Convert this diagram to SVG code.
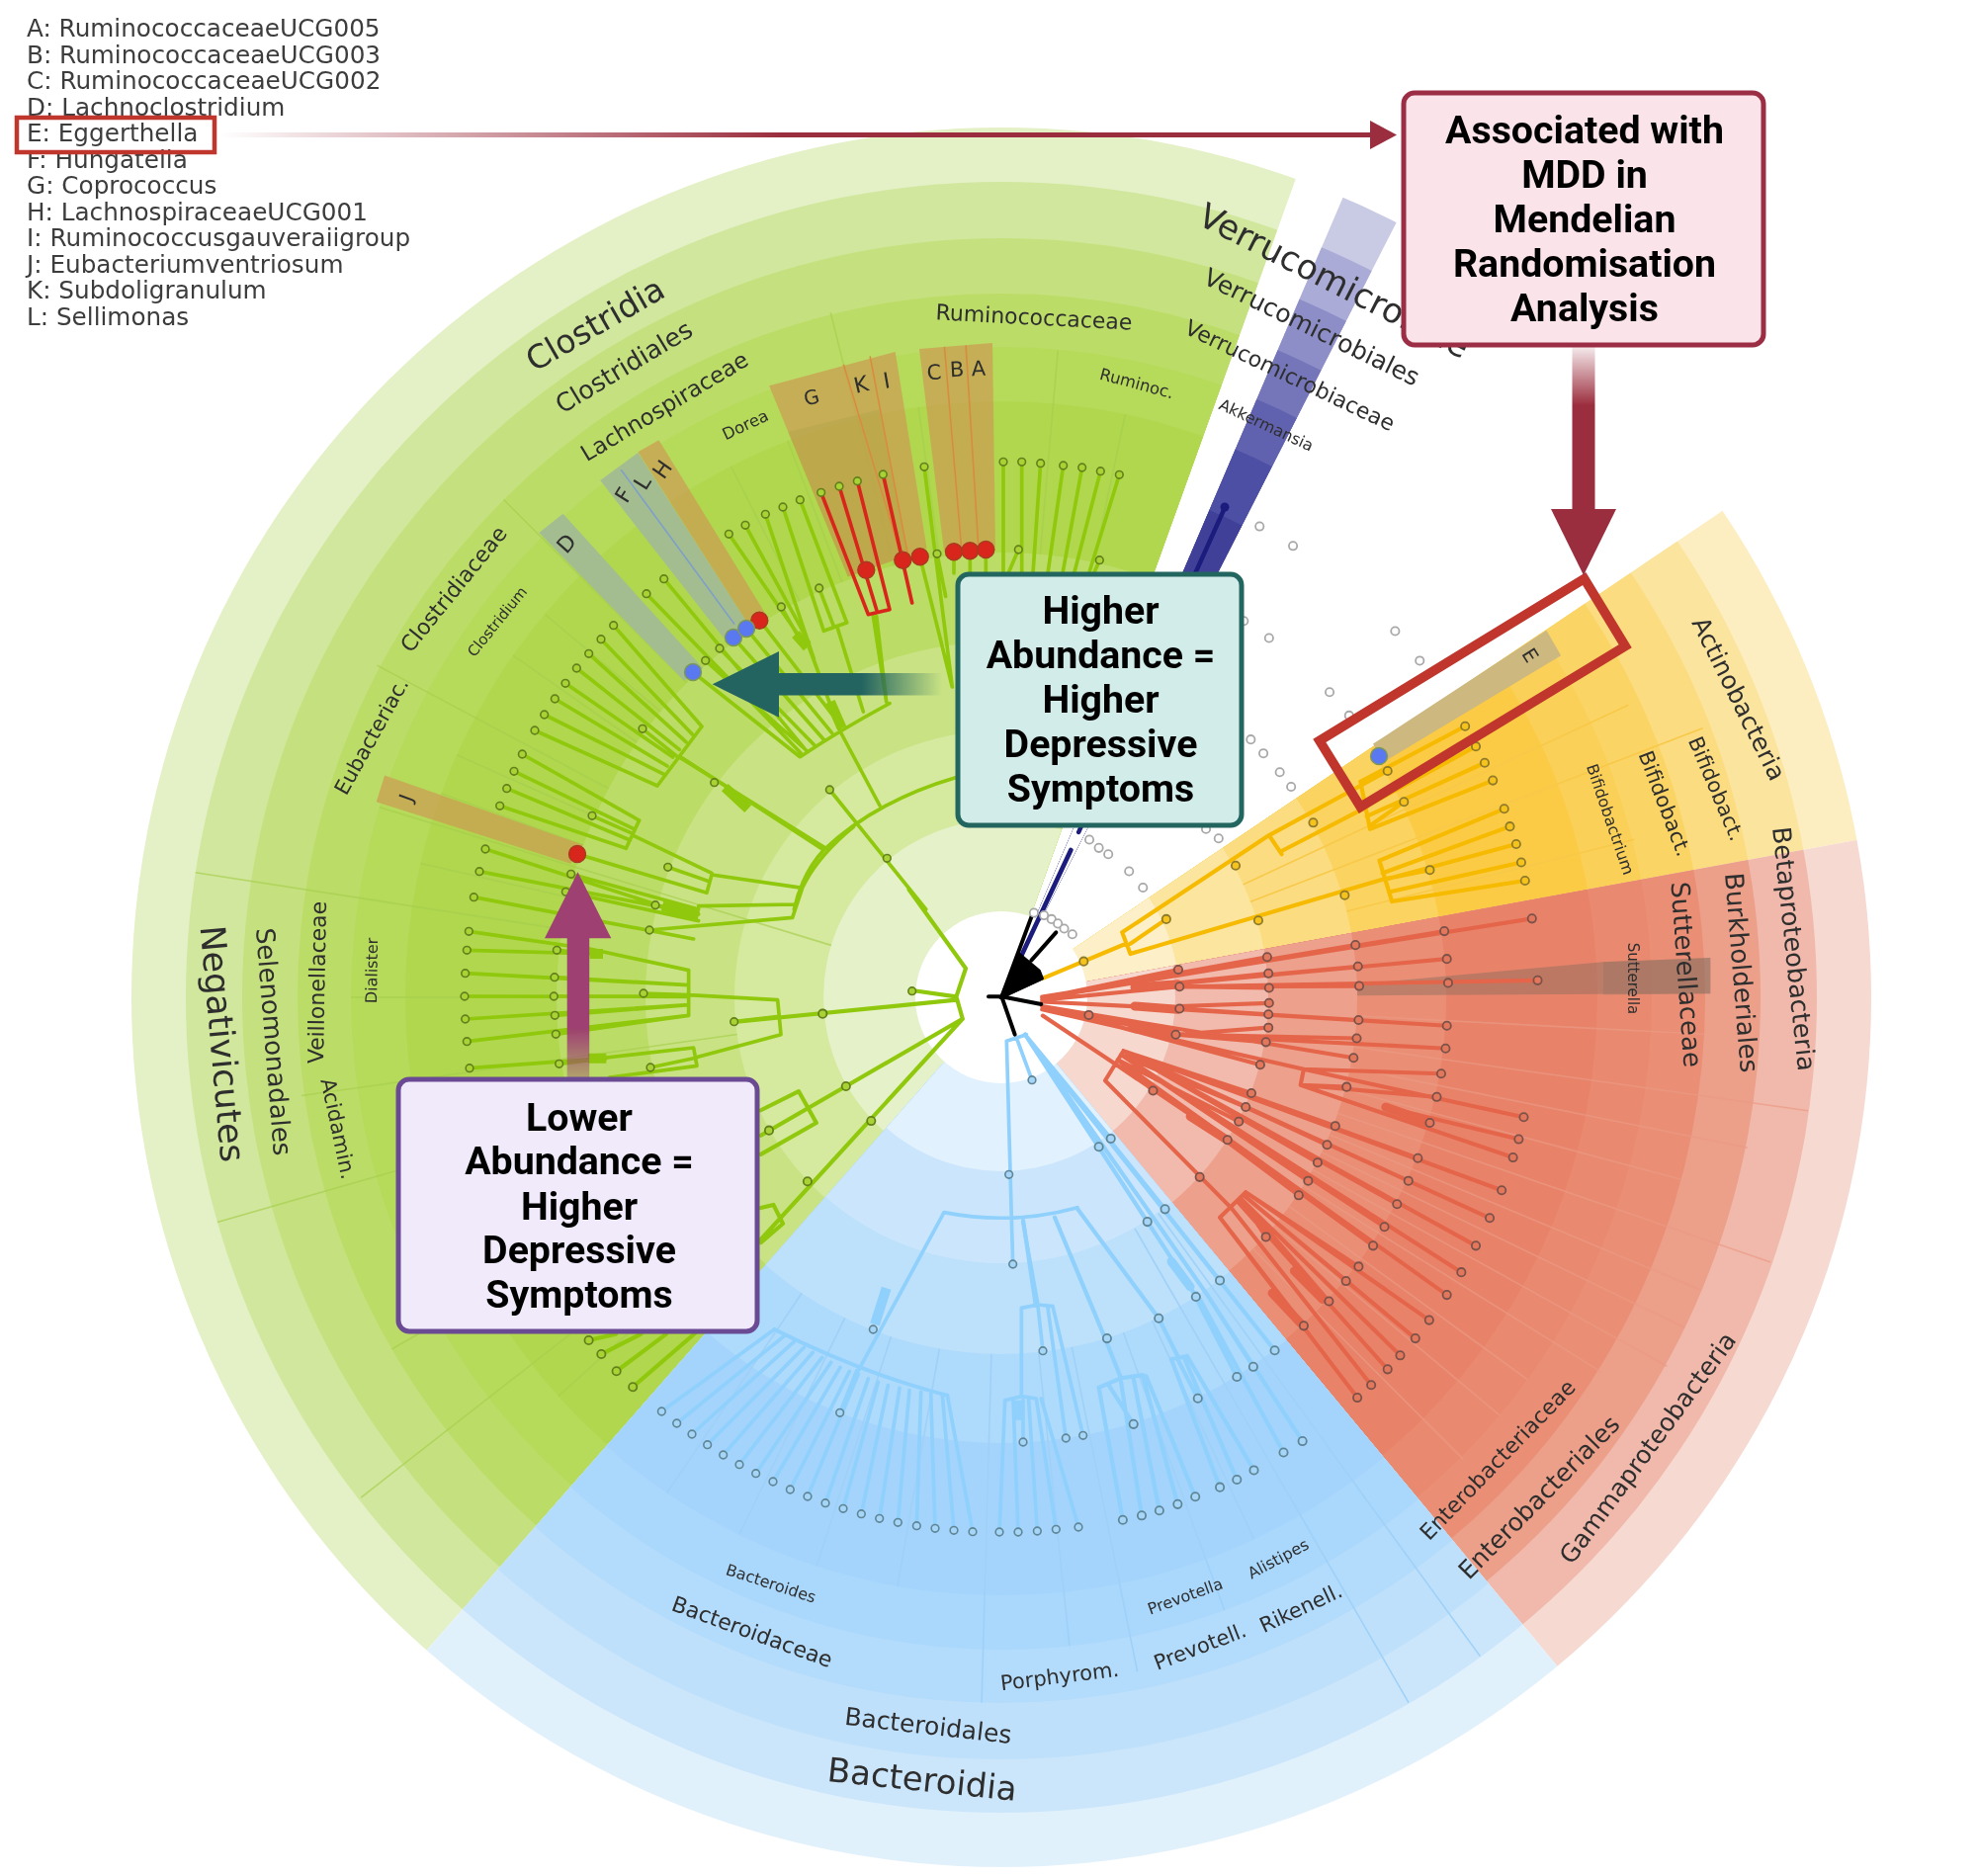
<svg xmlns="http://www.w3.org/2000/svg" xmlns:xlink="http://www.w3.org/1999/xlink" width="2000" height="1898" viewBox="0 0 2000 1898">
<style>
text{font-family:"DejaVu Sans","Liberation Sans",sans-serif;fill:#2e2e2e;text-anchor:middle}
#ring-labels text{dominant-baseline:central}
.legend text{text-anchor:start;font-size:24.700px;fill:#3c3c3c}
.box text{font-family:Roboto,"Liberation Sans",sans-serif;font-weight:700;font-size:39.300px;fill:#000}
.box rect{stroke-width:5}
.t path{fill:none;stroke-linejoin:round;stroke-linecap:round}
.a path{stroke-width:6.500}.b path{stroke-width:11}
.a path.k{stroke-width:14}.b path.k{stroke-width:30;stroke-linecap:butt}
.gr path{stroke:#90c808}.bl path{stroke:#8fd0fc}.re path{stroke:#e4654a}.ye path{stroke:#f6ba00}
.a circle{r:6.500px;stroke-width:2.800}.b circle{r:11.500px;stroke-width:4.800}
.gd circle{fill:#a9d336;stroke:#63801a}.bd circle{fill:#a5d6f8;stroke:#5f8596}.rd circle{fill:#e2775c;stroke:#7b5148}.yd circle{fill:#f6c21a;stroke:#8f7a2a}.kd circle{fill:#fff;stroke:#a8a8a8}
.dv line{stroke-width:1.600;fill:none}
.tan{fill:#c9a253;fill-opacity:.8}
</style>
<defs>
<filter id="soft" x="-2%" y="-2%" width="104%" height="104%"><feGaussianBlur stdDeviation="0.7"/></filter>
<clipPath id="cg"><polygon points="1013,1009 220,1910 -300,1910 -300,-120 1419,-120"/></clipPath>
<clipPath id="cn"><polygon points="1013,1009 1484,-94 1558,-60"/></clipPath>
<clipPath id="cy"><polygon points="1013,1009 2009,337 2193,792"/></clipPath>
<clipPath id="cr"><polygon points="1013,1009 2193,792 2400,1000 2400,1910 1780,1932"/></clipPath>
<clipPath id="cb"><polygon points="1013,1009 1780,1932 220,1932 220,1910"/></clipPath>
<linearGradient id="gl" gradientUnits="userSpaceOnUse" x1="223" y1="0" x2="790" y2="0"><stop offset="0" stop-color="#9b2e3e" stop-opacity="0"/><stop offset="1" stop-color="#9b2e3e"/></linearGradient>
<linearGradient id="gd" gradientUnits="userSpaceOnUse" x1="0" y1="351" x2="0" y2="410"><stop offset="0" stop-color="#9b2e3e" stop-opacity=".1"/><stop offset="1" stop-color="#9b2e3e"/></linearGradient>
<linearGradient id="gt" gradientUnits="userSpaceOnUse" x1="953" y1="0" x2="872" y2="0"><stop offset="0" stop-color="#236460" stop-opacity="0"/><stop offset="1" stop-color="#236460"/></linearGradient>
<linearGradient id="gp" gradientUnits="userSpaceOnUse" x1="0" y1="1092" x2="0" y2="1040"><stop offset="0" stop-color="#9e4072" stop-opacity=".35"/><stop offset="1" stop-color="#9e4072"/></linearGradient>
</defs>

<g id="figure" filter="url(#soft)">
<g id="sectors">
<g id="sector-green" clip-path="url(#cg)">
<circle cx="1013" cy="1009" r="880" fill="#e4f0c5"/><circle cx="1013" cy="1009" r="825" fill="#d1e79d"/><circle cx="1013" cy="1009" r="768" fill="#c5e17f"/><circle cx="1013" cy="1009" r="712" fill="#bcdc68"/><circle cx="1013" cy="1009" r="658" fill="#b6da5a"/><circle cx="1013" cy="1009" r="603" fill="#b0d74e"/><circle cx="1013" cy="1009" r="450" fill="#bcdc68"/><circle cx="1013" cy="1009" r="360" fill="#c9e384"/><circle cx="1013" cy="1009" r="270" fill="#d5e99f"/><circle cx="1013" cy="1009" r="180" fill="#e5f1c8"/>
</g>
<g id="sector-verruco" clip-path="url(#cn)">
<circle cx="1013" cy="1009" r="880" fill="#c9cae4"/><circle cx="1013" cy="1009" r="825" fill="#aaabd6"/><circle cx="1013" cy="1009" r="768" fill="#8d8ec8"/><circle cx="1013" cy="1009" r="712" fill="#7576ba"/><circle cx="1013" cy="1009" r="658" fill="#6162b0"/><circle cx="1013" cy="1009" r="603" fill="#4e50a4"/><circle cx="1013" cy="1009" r="536" fill="#3f4199"/><circle cx="1013" cy="1009" r="450" fill="#6a6cb5"/><circle cx="1013" cy="1009" r="360" fill="#fff"/>
</g>
<g id="sector-yellow" clip-path="url(#cy)">
<circle cx="1013" cy="1009" r="880" fill="#fdeec2"/><circle cx="1013" cy="1009" r="825" fill="#fbe49e"/><circle cx="1013" cy="1009" r="768" fill="#fbdc80"/><circle cx="1013" cy="1009" r="712" fill="#fad566"/><circle cx="1013" cy="1009" r="658" fill="#fad058"/><circle cx="1013" cy="1009" r="603" fill="#fbcb45"/><circle cx="1013" cy="1009" r="450" fill="#fbd360"/><circle cx="1013" cy="1009" r="360" fill="#fbdc80"/><circle cx="1013" cy="1009" r="270" fill="#fce59f"/><circle cx="1013" cy="1009" r="180" fill="#fdf0c8"/>
</g>
<g id="sector-red" clip-path="url(#cr)">
<circle cx="1013" cy="1009" r="880" fill="#f6d9d1"/><circle cx="1013" cy="1009" r="825" fill="#f0b9ab"/><circle cx="1013" cy="1009" r="768" fill="#ec9f89"/><circle cx="1013" cy="1009" r="712" fill="#ea8f75"/><circle cx="1013" cy="1009" r="658" fill="#e98a70"/><circle cx="1013" cy="1009" r="603" fill="#e8836a"/><circle cx="1013" cy="1009" r="450" fill="#ea8f76"/><circle cx="1013" cy="1009" r="360" fill="#eda18c"/><circle cx="1013" cy="1009" r="270" fill="#f1baac"/><circle cx="1013" cy="1009" r="176" fill="#f6d8cf"/>
</g>
<g id="sector-blue" clip-path="url(#cb)">
<circle cx="1013" cy="1009" r="880" fill="#e1f1fc"/><circle cx="1013" cy="1009" r="825" fill="#cbe6fb"/><circle cx="1013" cy="1009" r="771" fill="#bfe0fb"/><circle cx="1013" cy="1009" r="714" fill="#b3dbfb"/><circle cx="1013" cy="1009" r="660" fill="#aad7fc"/><circle cx="1013" cy="1009" r="605" fill="#a4d4fc"/><circle cx="1013" cy="1009" r="451" fill="#aedafc"/><circle cx="1013" cy="1009" r="361" fill="#bde0fb"/><circle cx="1013" cy="1009" r="269" fill="#cbe6fc"/><circle cx="1013" cy="1009" r="176" fill="#e1f1fd"/>
</g>
<circle cx="1013" cy="1009" r="87" fill="#fff"/>
</g>

<g id="dividers" class="dv" transform="translate(1013 1009)">
<g stroke="#a6cf4e" stroke-opacity=".7">
<line x2="825" x1="450" transform="rotate(188.8)"/><line x2="825" x1="450" transform="rotate(164)"/><line x2="822" x1="450" transform="rotate(142)"/><line x2="712" x1="450" transform="rotate(225)"/><line x2="715" x1="450" transform="rotate(208)"/><line x2="714" x1="450" transform="rotate(256)"/><line x2="657" x1="450" transform="rotate(275)"/><line x2="715" x1="270" transform="rotate(172)"/><line x2="658" x1="180" transform="rotate(197)"/><line x2="712" x1="450" transform="rotate(150)"/><line x2="658" x1="450" transform="rotate(158)"/><line x2="658" x1="450" transform="rotate(180)"/><line x2="603" x1="450" transform="rotate(215)"/><line x2="603" x1="450" transform="rotate(235)"/><line x2="603" x1="450" transform="rotate(243)"/><line x2="603" x1="450" transform="rotate(249)"/><line x2="603" x1="450" transform="rotate(262)"/><line x2="603" x1="450" transform="rotate(267)"/><line x2="603" x1="450" transform="rotate(282)"/><line x2="603" x1="450" transform="rotate(220)"/><line x2="603" x1="450" transform="rotate(204)"/><line x2="603" x1="450" transform="rotate(200)"/><line x2="603" x1="450" transform="rotate(193)"/><line x2="603" x1="450" transform="rotate(147)"/><line x2="603" x1="450" transform="rotate(138)"/>
</g>
<g stroke="#eb9a84" stroke-opacity=".7">
<line x2="824" x1="360" transform="rotate(8)"/><line x2="823" x1="360" transform="rotate(19)"/><line x2="770" x1="360" transform="rotate(11.4)"/><line x2="766" x1="360" transform="rotate(22.7)"/><line x2="768" x1="360" transform="rotate(25.8)"/><line x2="770" x1="360" transform="rotate(29)"/><line x2="716" x1="360" transform="rotate(32)"/><line x2="661" x1="360" transform="rotate(45)"/><line x2="712" x1="360" transform="rotate(3)"/><line x2="712" x1="360" transform="rotate(15)"/><line x2="658" x1="360" transform="rotate(36)"/><line x2="658" x1="360" transform="rotate(40)"/>
</g>
<g stroke="#9fd1f8">
<line x2="824" x1="270" transform="rotate(60)"/><line x2="824" x1="270" transform="rotate(54)"/><line x2="696" x1="361" transform="rotate(78.6)"/><line x2="714" x1="361" transform="rotate(91.6)"/><line x2="660" x1="361" transform="rotate(70)"/><line x2="660" x1="361" transform="rotate(84)"/><line x2="605" x1="361" transform="rotate(100)"/><line x2="605" x1="361" transform="rotate(108)"/><line x2="605" x1="361" transform="rotate(116)"/><line x2="605" x1="361" transform="rotate(124)"/><line x2="605" x1="361" transform="rotate(65)"/>
</g>
<g stroke="#f8c94a">
<line x2="760" x1="270" transform="rotate(-21)"/><line x2="700" x1="270" transform="rotate(-25)"/><line x2="660" x1="360" transform="rotate(-14)"/>
</g>
</g>

<g id="highlights">
<polygon points="855,845 893,815 1115,1060 1085,1080" transform="scale(.6378)" fill="#a3bd91"/>
<polygon points="952,762 1012,718 1190,995 1150,1015" transform="scale(.6378)" fill="#a3bd91"/>
<polygon points="1012,717 1045,698 1215,975 1190,995" transform="scale(.6378)" class="tan"/>
<polygon points="1220,612 1420,558 1470,870 1345,915" transform="scale(.6378)" class="tan"/>
<polygon points="1250,685 1395,650 1440,880 1345,915" transform="scale(.6378)" fill="#a89d3f" fill-opacity=".25"/>
<polygon points="930,353 1004,347 1007,557 955,558" class="tan"/>
<polygon points="610,1230 597,1272 905,1370 925,1340" transform="scale(.6378)" class="tan"/>
<polygon points="885,1000 908,1040 625,1210 610,1180" transform="translate(1000 0) scale(.6378)" fill="#cdb87f"/>
<polygon points="585,150 585,168 1145,165 1145,108 975,115" transform="translate(1000 900) scale(.6378)" fill="#7e6a5c" fill-opacity=".42"/>
<polygon points="975,115 1145,108 1145,165 975,167" transform="translate(1000 900) scale(.6378)" fill="#7e6a5c" fill-opacity=".25"/>
<g transform="scale(.6378)" fill="none" stroke-width="2.500">
<path d="M985 745L1165 990" stroke="#7f9fc8"/>
<path d="M1338 578L1430 885M1380 565L1440 880M1498 550L1525 870M1532 548L1552 870" stroke="#d88c40"/>
</g>
</g>

<g id="connectors" class="t">
<g id="tree-green" class="gr">
<g class="b" transform="translate(620 400) scale(.33333)">
<path d="M945 217L1030 885M984 481L1010 610M932 490L1030 885M1185 202V540M1241 202V540M1298 206L1275 540M1367 213L1320 540M1424 219L1365 540M1480 230L1400 540M1537 241L1445 540M1231 468L1200 540M1477 500L1460 540M1035 475V540M1084 472V540M1132 468V540"/>
<path d="M790 670L830 930L800 670M840 935Q700 1010 568 1097M243 840L565 1095M281 805L590 1080M324 768L615 1065M366 735L640 1045M405 708L665 1025M445 682L690 1000M155 557L580 1070M102 602L570 1085M511 642L570 745M352 421L575 745M402 394L595 750M463 361L610 800M590 750L690 1020M690 1020L810 1245M516 339L640 715M568 317L710 690M640 715L710 690M626 585L670 700M680 700L760 960"/>
<path class="k" d="M555 725L590 765M660 930L695 1010M340 1190L410 1255"/>
<path d="M1040 1160Q800 1230 640 1380Q575 1450 550 1560M658 1197L950 1560M210 1100L640 1380"/>
</g>
<g class="b" transform="translate(430 620) scale(.33333)">
<path d="M572 38L840 345M534 80L812 370M497 124L792 392M460 168L772 415M426 214L752 438M394 261L735 465M362 309L725 490M333 357L705 525M840 345L705 525M660 352L770 440M775 440L1225 720M295 429L650 630M270 481L632 655M248 533L622 690M227 586L610 715M650 630L610 715M507 616L630 670M630 675L870 790M183 717L700 885M462 732L855 850L870 795M737 772L862 815M870 795L1145 835M165 785L830 915M443 793L830 900M148 863L815 990M427 847L830 935M699 887L830 915M830 890L1125 885M681 963L1115 925L1145 835Q1190 740 1300 650"/>
<path d="M133 967L500 1020L800 1085M127 1024L520 1035M400 1024L520 1035M122 1094L800 1130M393 1106L800 1130M120 1164L800 1165M391 1164L800 1165M122 1233L800 1190M394 1222L800 1190M127 1301L800 1222M397 1279L800 1222M800 1085V1222M663 1155L800 1160M800 1160L1070 1175L1080 1280L820 1350M938 1241L1075 1225M135 1382L550 1352M407 1369L550 1352M550 1350L815 1320L825 1375L560 1410M684 1380L825 1350"/>
<path class="k" d="M720 890L830 920M500 1035H540M495 1352H550"/>
</g>
<g class="a" transform="translate(100 900) scale(.6378)">
<path d="M1008 210L1360 175M1290 160L1360 170M1285 0L1375 125L1360 170L1370 205M1370 205L1050 390M1370 205L1050 555M1050 350L1110 320L1138 370L1050 420M1050 505L1070 500L1085 530L1050 560M847 789L950 700M821 764L900 705M797 737L860 705M777 715L820 705"/>
</g>
</g>
<path d="M632 295L775 665L840 650L742 260M687 276L800 650M820 240L908 630" transform="translate(620 400) scale(.33333)" stroke="#d8271a" stroke-width="11"/>

<g id="tree-blue" class="bl">
<g class="b" transform="translate(620 1040) scale(.33333)">
<path d="M1195 40L1255 20M1195 40L1210 580M1225 30L1272 158M1005 560Q1210 600 1410 545M1005 560L745 1040M490 915Q760 1050 1015 1115M1210 580L1214 717M1245 590L1290 840M1240 850L1290 840L1335 845M1240 850V1120M1290 845L1305 980M1320 850L1375 1245M1335 845L1427 1237M1190 1130L1240 1118L1285 1125M1190 1130L1173 1530M1215 1130L1230 1530M1245 1130V1257M1262 1130L1288 1527M1285 1125L1345 1522M1300 1125L1413 1515M689 1168L740 1040"/>
<path class="k" d="M830 790L795 900M1230 1130L1230 1190"/>
<path d="M490 915L148 1164M520 935L194 1200M550 952L240 1233M580 970L287 1265M607 985L335 1296M635 1000L384 1325M662 1015L434 1352M690 1030L486 1377M718 1042L538 1401M745 1050L591 1422M775 1065L645 1442M805 1075L699 1459M835 1085L754 1475M870 1093L809 1489M900 1100L865 1501M935 1105L922 1511M965 1110L978 1519M1000 1113L1035 1525M1015 1115L1092 1529"/>
</g>
<g class="a" transform="translate(1000 900) scale(.6378)">
<path d="M58 230L175 408M58 230L194 395M58 230L252 527M58 230L280 507M58 230L330 646M58 230L367 620M58 230L454 731M58 230L345 640M320 630L394 773M345 640L420 757M330 640L468 893M345 640L498 875M140 505L270 680L300 740M105 520L185 712L210 775M175 790L210 775L245 770M175 790L213 1000M190 785L230 848M210 780L243 993M230 775L271 985M245 772L300 975M250 772L328 963M290 745L315 740M290 745L367 948M300 745L332 807M310 742L394 936M315 740L421 921M55 525L75 660"/>
<path class="k" d="M290 590L320 630"/>
</g>
</g>

<g id="tree-red" class="re">
<g class="a" transform="translate(1000 900) scale(.6378)">
<path d="M85 170L862 46M85 172L442 107M85 172L723 66M85 172L582 88M85 172L301 127M235 155L586 122M235 155L444 133M235 155L727 110M85 175L303 154L871 144M303 154L445 156M303 154L588 153M85 178L303 189M303 185L445 180M303 189L444 198M303 190L587 207M303 190L727 216M85 185L297 230M297 230L444 219M297 230L584 236M297 230L725 252M297 230L440 242M85 185L431 278M85 185L159 199M85 185L579 267M85 190L500 285M500 285L718 292M500 285L849 361M495 310L568 313M495 310L832 425M630 345L841 396M495 310L711 329M630 345L700 370M500 285L495 310"/>
<path class="k" d="M232 155L300 150M232 185L300 190M228 215L297 230"/>
<path d="M86 200L200 276M214 256L185 303L385 505M408 480L367 520M214 256L814 477M214 256L795 521M214 256L773 565M210 262L750 607M205 270L727 643M205 270L261 319M214 256L417 323M210 262L408 345M205 270L397 368M200 276L379 397M214 256L550 375M214 256L681 426M214 256L537 405M214 256L666 462M214 256L522 433M214 256L648 499M210 262L507 462M210 262L628 535M205 270L492 485M205 270L610 565M408 480L699 683M405 485L677 712M400 490L653 739M395 495L633 761M385 505L607 786M367 520L585 806M408 480L587 598M405 485L567 621M400 490L540 653M367 520L500 692M400 490L440 551"/>
<path class="k" d="M320 360L375 395M630 345L695 368M450 640L495 688M485 605L530 650"/>
</g>
</g>

<g id="tree-yellow" class="ye">
<g class="a" transform="translate(1000 0) scale(.6378)">
<path d="M86 1552L218 1497M212 1479L225 1513M212 1479L445 1325M225 1497L282 1458M225 1513L625 1395M445 1325L465 1355M445 1325L633 1223M465 1350L600 1280M590 1240L605 1315M590 1240L756 1152M597 1280L773 1184M600 1295L787 1210M605 1315L800 1238M605 1310L659 1272M620 1365L640 1430M620 1365L818 1283M625 1385L827 1311M630 1395L837 1339M635 1415L845 1368M640 1430L851 1397M625 1395L700 1380"/>
</g>
</g>

<g id="tree-root">
<path d="M143 1320L375 805" transform="translate(1000 0) scale(.6378)" stroke="#1a1a7c" stroke-width="7"/>
<g transform="translate(1000 860) scale(.33333)">
<path d="M100 320L250 0" stroke="#1a1a7c" stroke-width="14"/>
<path d="M35 450L95 315L155 365L165 390Z" style="fill:#000" stroke="#000" stroke-width="6"/>
<path d="M40 445L135 190M130 335L205 250M40 445L160 390M40 445L160 468M0 445H40M40 445L80 560" stroke="#000" stroke-width="12"/>
</g>
</g>
</g>

<g id="dots">
<g class="b gd" transform="translate(620 400) scale(.33333)"><circle cx="945" cy="217"/><circle cx="1185" cy="202"/><circle cx="1241" cy="202"/><circle cx="1298" cy="206"/><circle cx="1367" cy="213"/><circle cx="1424" cy="219"/><circle cx="1480" cy="230"/><circle cx="1537" cy="241"/><circle cx="820" cy="240"/><circle cx="742" cy="260"/><circle cx="687" cy="276"/><circle cx="632" cy="295"/><circle cx="568" cy="317"/><circle cx="516" cy="339"/><circle cx="463" cy="361"/><circle cx="402" cy="394"/><circle cx="352" cy="421"/><circle cx="155" cy="557"/><circle cx="102" cy="602"/><circle cx="511" cy="642"/><circle cx="626" cy="585"/><circle cx="984" cy="481"/><circle cx="1231" cy="468"/><circle cx="1477" cy="500"/><circle cx="281" cy="805"/><circle cx="324" cy="768"/></g>
<g class="b gd" transform="translate(430 620) scale(.33333)"><circle cx="572" cy="38"/><circle cx="534" cy="80"/><circle cx="497" cy="124"/><circle cx="460" cy="168"/><circle cx="426" cy="214"/><circle cx="394" cy="261"/><circle cx="362" cy="309"/><circle cx="333" cy="357"/><circle cx="295" cy="429"/><circle cx="270" cy="481"/><circle cx="248" cy="533"/><circle cx="227" cy="586"/><circle cx="660" cy="352"/><circle cx="507" cy="616"/><circle cx="183" cy="717"/><circle cx="165" cy="785"/><circle cx="148" cy="863"/><circle cx="443" cy="793"/><circle cx="427" cy="847"/><circle cx="133" cy="967"/><circle cx="127" cy="1024"/><circle cx="122" cy="1094"/><circle cx="120" cy="1164"/><circle cx="122" cy="1233"/><circle cx="127" cy="1301"/><circle cx="135" cy="1382"/><circle cx="400" cy="1024"/><circle cx="393" cy="1106"/><circle cx="391" cy="1164"/><circle cx="394" cy="1222"/><circle cx="397" cy="1279"/><circle cx="407" cy="1369"/><circle cx="878" cy="515"/><circle cx="1228" cy="537"/><circle cx="1402" cy="745"/><circle cx="737" cy="772"/><circle cx="699" cy="887"/><circle cx="681" cy="963"/><circle cx="663" cy="1155"/><circle cx="938" cy="1241"/><circle cx="1208" cy="1216"/><circle cx="1478" cy="1148"/><circle cx="684" cy="1380"/></g>
<g class="a gd" transform="translate(100 900) scale(.6378)"><circle cx="1148" cy="197"/><circle cx="1185" cy="312"/><circle cx="1225" cy="367"/><circle cx="1124" cy="463"/><circle cx="1063" cy="382"/><circle cx="777" cy="715"/><circle cx="797" cy="737"/><circle cx="821" cy="764"/><circle cx="847" cy="789"/></g>
<g class="b bd" transform="translate(620 1040) scale(.33333)"><circle cx="148" cy="1164"/><circle cx="194" cy="1200"/><circle cx="240" cy="1233"/><circle cx="287" cy="1265"/><circle cx="335" cy="1296"/><circle cx="384" cy="1325"/><circle cx="434" cy="1352"/><circle cx="486" cy="1377"/><circle cx="538" cy="1401"/><circle cx="591" cy="1422"/><circle cx="645" cy="1442"/><circle cx="699" cy="1459"/><circle cx="754" cy="1475"/><circle cx="809" cy="1489"/><circle cx="865" cy="1501"/><circle cx="922" cy="1511"/><circle cx="978" cy="1519"/><circle cx="1035" cy="1525"/><circle cx="1092" cy="1529"/><circle cx="1173" cy="1530"/><circle cx="1230" cy="1530"/><circle cx="1288" cy="1527"/><circle cx="1345" cy="1522"/><circle cx="1413" cy="1515"/><circle cx="689" cy="1168"/><circle cx="790" cy="915"/><circle cx="1272" cy="158"/><circle cx="1202" cy="445"/><circle cx="1214" cy="717"/><circle cx="1305" cy="980"/><circle cx="1245" cy="1257"/><circle cx="1375" cy="1245"/><circle cx="1427" cy="1237"/></g>
<g class="a bd" transform="translate(1000 900) scale(.6378)"><circle cx="188" cy="712"/><circle cx="270" cy="680"/><circle cx="332" cy="807"/><circle cx="230" cy="848"/><circle cx="213" cy="1000"/><circle cx="243" cy="993"/><circle cx="271" cy="985"/><circle cx="300" cy="975"/><circle cx="328" cy="963"/><circle cx="367" cy="948"/><circle cx="394" cy="936"/><circle cx="421" cy="921"/><circle cx="468" cy="893"/><circle cx="498" cy="875"/><circle cx="252" cy="527"/><circle cx="280" cy="507"/><circle cx="329" cy="646"/><circle cx="367" cy="620"/><circle cx="394" cy="773"/><circle cx="420" cy="757"/><circle cx="454" cy="731"/><circle cx="175" cy="408"/><circle cx="194" cy="395"/></g>
<g class="a rd" transform="translate(1000 900) scale(.6378)"><circle cx="301" cy="127"/><circle cx="303" cy="154"/><circle cx="303" cy="189"/><circle cx="297" cy="230"/><circle cx="442" cy="107"/><circle cx="444" cy="133"/><circle cx="445" cy="156"/><circle cx="445" cy="180"/><circle cx="444" cy="198"/><circle cx="444" cy="219"/><circle cx="440" cy="242"/><circle cx="431" cy="278"/><circle cx="417" cy="323"/><circle cx="408" cy="345"/><circle cx="397" cy="368"/><circle cx="379" cy="397"/><circle cx="335" cy="456"/><circle cx="582" cy="88"/><circle cx="586" cy="122"/><circle cx="588" cy="153"/><circle cx="587" cy="207"/><circle cx="584" cy="236"/><circle cx="579" cy="267"/><circle cx="568" cy="313"/><circle cx="550" cy="375"/><circle cx="537" cy="405"/><circle cx="522" cy="433"/><circle cx="507" cy="462"/><circle cx="492" cy="485"/><circle cx="440" cy="551"/><circle cx="723" cy="66"/><circle cx="727" cy="110"/><circle cx="729" cy="148"/><circle cx="727" cy="216"/><circle cx="725" cy="252"/><circle cx="718" cy="292"/><circle cx="711" cy="329"/><circle cx="700" cy="370"/><circle cx="681" cy="426"/><circle cx="666" cy="462"/><circle cx="648" cy="499"/><circle cx="628" cy="535"/><circle cx="610" cy="565"/><circle cx="587" cy="598"/><circle cx="567" cy="621"/><circle cx="540" cy="653"/><circle cx="500" cy="692"/><circle cx="862" cy="46"/><circle cx="871" cy="144"/><circle cx="849" cy="361"/><circle cx="841" cy="396"/><circle cx="832" cy="425"/><circle cx="814" cy="477"/><circle cx="795" cy="521"/><circle cx="773" cy="565"/><circle cx="750" cy="607"/><circle cx="727" cy="643"/><circle cx="699" cy="683"/><circle cx="677" cy="712"/><circle cx="653" cy="739"/><circle cx="633" cy="761"/><circle cx="607" cy="786"/><circle cx="585" cy="806"/><circle cx="159" cy="199"/><circle cx="261" cy="319"/></g>
<g class="a yd" transform="translate(1000 0) scale(.6378)"><circle cx="151" cy="1525"/><circle cx="282" cy="1458"/><circle cx="392" cy="1373"/><circle cx="428" cy="1460"/><circle cx="565" cy="1420"/><circle cx="515" cy="1305"/><circle cx="659" cy="1272"/><circle cx="633" cy="1223"/><circle cx="756" cy="1152"/><circle cx="773" cy="1184"/><circle cx="787" cy="1210"/><circle cx="800" cy="1238"/><circle cx="818" cy="1283"/><circle cx="827" cy="1311"/><circle cx="837" cy="1339"/><circle cx="845" cy="1368"/><circle cx="851" cy="1397"/><circle cx="700" cy="1380"/></g>
<g class="a kd" transform="translate(1000 0) scale(.6378)"><circle cx="430" cy="835"/><circle cx="483" cy="866"/><circle cx="445" cy="1012"/><circle cx="405" cy="985"/><circle cx="645" cy="1001"/><circle cx="684" cy="1048"/><circle cx="541" cy="1098"/><circle cx="572" cy="1135"/><circle cx="416" cy="1173"/><circle cx="436" cy="1195"/><circle cx="462" cy="1225"/><circle cx="480" cy="1248"/><circle cx="345" cy="1315"/><circle cx="365" cy="1330"/><circle cx="160" cy="1332"/><circle cx="175" cy="1345"/><circle cx="190" cy="1355"/><circle cx="223" cy="1382"/><circle cx="245" cy="1408"/><circle cx="72" cy="1448"/><circle cx="88" cy="1452"/><circle cx="100" cy="1458"/><circle cx="110" cy="1465"/><circle cx="120" cy="1473"/><circle cx="133" cy="1482"/></g>
<circle cx="1239" cy="513" r="4.500" fill="#1a1a7c"/>
<g fill="#d8271a" stroke="#a83a20" stroke-width="1.400">
<circle cx="876.300" cy="576.700" r="8.500"/><circle cx="913.300" cy="566.700" r="8.500"/><circle cx="930.700" cy="563.300" r="8.500"/><circle cx="965" cy="558.300" r="8.500"/><circle cx="981.300" cy="557.300" r="8.500"/><circle cx="997.300" cy="556" r="8.500"/><circle cx="768.300" cy="627.700" r="8.500"/><circle cx="584" cy="864" r="8.500"/>
</g>
<g fill="#5a78f0" stroke="#7f9a50" stroke-width="1.400">
<circle cx="742" cy="645" r="8.500"/><circle cx="755" cy="636" r="8.500"/><circle cx="701" cy="680" r="8.500"/><circle cx="1395" cy="765" r="8.500"/>
</g>
</g>

<g id="ring-labels">
<text font-size="33" transform="translate(602 328) rotate(-30)">Clostridia</text>
<text font-size="25.500" transform="translate(631 371) rotate(-31)">Clostridiales</text>
<text font-size="22.800" transform="translate(672 411) rotate(-31)">Lachnospiraceae</text>
<text font-size="16.500" transform="translate(754 430) rotate(-25)">Dorea</text>
<text font-size="22" transform="translate(459 596) rotate(-51)">Clostridiaceae</text>
<text font-size="15" transform="translate(503 629) rotate(-51)">Clostridium</text>
<text font-size="21" transform="translate(376 745) rotate(-61)">Eubacteriac.</text>
<text font-size="22" transform="translate(1046 321) rotate(3)">Ruminococcaceae</text>
<text font-size="16.500" transform="translate(1150 388) rotate(15)">Ruminoc.</text>
<text font-size="34.500" transform="translate(1350 284) rotate(27)">Verrucomicrobiae</text>
<text font-size="25" transform="translate(1327 331) rotate(26)">Verrucomicrobiales</text>
<text font-size="22" transform="translate(1305 380) rotate(25.500)">Verrucomicrobiaceae</text>
<text font-size="16" transform="translate(1281 430) rotate(25)">Akkermansia</text>
<text font-size="25" transform="translate(1759 707) rotate(63.500)">Actinobacteria</text>
<text font-size="21" transform="translate(1736 798) rotate(67)">Bifidobact.</text>
<text font-size="21" transform="translate(1684 813) rotate(69)">Bifidobact.</text>
<text font-size="16" transform="translate(1629 829) rotate(71)">Bifidobactrium</text>
<text font-size="25.700" transform="translate(1815 960) rotate(84)">Betaproteobacteria</text>
<text font-size="26" transform="translate(1762 984) rotate(85.500)">Burkholderiales</text>
<text font-size="26" transform="translate(1706 986) rotate(86)">Sutterellaceae</text>
<text font-size="15" transform="translate(1652 990) rotate(90)">Sutterella</text>
<text font-size="25" transform="translate(1667 1465) rotate(-53.800)">Gammaproteobacteria</text>
<text font-size="25" transform="translate(1557 1515) rotate(-45.500)">Enterobacteriales</text>
<text font-size="22" transform="translate(1515 1477) rotate(-46)">Enterobacteriaceae</text>
<text font-size="21" transform="translate(1316 1627) rotate(-25)">Rikenell.</text>
<text font-size="21" transform="translate(1214 1666) rotate(-21)">Prevotell.</text>
<text font-size="16" transform="translate(1293 1577) rotate(-28)">Alistipes</text>
<text font-size="16" transform="translate(1199 1615) rotate(-20)">Prevotella</text>
<text font-size="21" transform="translate(1072 1696) rotate(-7)">Porphyrom.</text>
<text font-size="25" transform="translate(939 1746) rotate(6.500)">Bacteroidales</text>
<text font-size="34" transform="translate(933 1800) rotate(6)">Bacteroidia</text>
<text font-size="22" transform="translate(761 1651) rotate(20)">Bacteroidaceae</text>
<text font-size="16" transform="translate(780 1602) rotate(18)">Bacteroides</text>
<text font-size="35" transform="translate(225 1056) rotate(85)">Negativicutes</text>
<text font-size="26" transform="translate(277 1054) rotate(85.500)">Selenomonadales</text>
<text font-size="22" transform="translate(321 994) rotate(-89)">Veillonellaceae</text>
<text font-size="16" transform="translate(376 982) rotate(-89)">Dialister</text>
<text font-size="21" transform="translate(342 1142) rotate(78)">Acidamin.</text>
<text font-size="22" transform="translate(573 550) rotate(-48)">D</text>
<text font-size="22" transform="translate(631 501) rotate(-58)">F</text>
<text font-size="22" transform="translate(650 488) rotate(-58)">L</text>
<text font-size="22" transform="translate(670 475) rotate(-55)">H</text>
<text font-size="20" transform="translate(821 402) rotate(-15)">G</text>
<text font-size="22" transform="translate(871 389) rotate(-13)">K</text>
<text font-size="22" transform="translate(897 385) rotate(-10)">I</text>
<text font-size="21" transform="translate(945 377) rotate(-5)">C</text>
<text font-size="21" transform="translate(968 374) rotate(-3)">B</text>
<text font-size="21" transform="translate(990 373) rotate(-2)">A</text>
<text font-size="20" transform="translate(411 807) rotate(-70)">J</text>
<text font-size="20" transform="translate(1548 663) rotate(58)">E</text>
</g>

<g id="legend" class="legend">
<text x="27" y="37">A: RuminococcaceaeUCG005</text>
<text x="27" y="63.500">B: RuminococcaceaeUCG003</text>
<text x="27" y="90">C: RuminococcaceaeUCG002</text>
<text x="27" y="116.500">D: Lachnoclostridium</text>
<text x="27" y="143">E: Eggerthella</text>
<text x="27" y="169.500">F: Hungatella</text>
<text x="27" y="196">G: Coprococcus</text>
<text x="27" y="222.500">H: LachnospiraceaeUCG001</text>
<text x="27" y="249">I: Ruminococcusgauveraiigroup</text>
<text x="27" y="275.500">J: Eubacteriumventriosum</text>
<text x="27" y="302">K: Subdoligranulum</text>
<text x="27" y="328.500">L: Sellimonas</text>
</g>
</g>

<g id="emphasis">
<rect x="17" y="119" width="200" height="35" fill="none" stroke="#c0362c" stroke-width="4.500"/>
<polygon points="945,918 1010,1025 590,1280 525,1175" transform="translate(1000 0) scale(.6378)" fill="none" stroke="#c0362c" stroke-width="15"/>
</g>

<g id="arrows">
<rect x="223" y="134" width="1165" height="5" fill="url(#gl)"/>
<polygon points="1386,122 1413,136.500 1386,151" fill="#9b2e3e"/>
<rect x="1590.500" y="351" width="23" height="166" fill="url(#gd)"/>
<polygon points="1569,515 1635,515 1602,582" fill="#9b2e3e"/>
<rect x="787" y="681" width="166" height="22.500" fill="url(#gt)"/>
<polygon points="720.700,692.300 788,659 788,725.700" fill="#236460"/>
<rect x="573.700" y="949" width="22.500" height="143" fill="url(#gp)"/>
<polygon points="584.500,882.300 551,949.300 618.300,949.300" fill="#9e4072"/>
</g>

<g id="callouts" class="box">
<g id="box-mdd">
<rect x="1420" y="94" width="364" height="255" rx="11" fill="#fbe4e9" stroke="#9b2e44"/>
<text x="1603" y="145">Associated with</text><text x="1603" y="190">MDD in</text><text x="1603" y="235">Mendelian</text><text x="1603" y="280">Randomisation</text><text x="1603" y="325">Analysis</text>
</g>
<g id="box-higher">
<rect x="969" y="581" width="287" height="254" rx="11" fill="#d2ede9" stroke="#236660"/>
<text x="1113.500" y="631">Higher</text><text x="1113.500" y="676">Abundance =</text><text x="1113.500" y="721">Higher</text><text x="1113.500" y="766">Depressive</text><text x="1113.500" y="811">Symptoms</text>
</g>
<g id="box-lower">
<rect x="403" y="1092" width="363" height="255" rx="11" fill="#f0eafa" stroke="#6b4a94"/>
<text x="586" y="1144">Lower</text><text x="586" y="1188">Abundance =</text><text x="586" y="1233.500">Higher</text><text x="586" y="1278">Depressive</text><text x="586" y="1323">Symptoms</text>
</g>
</g>
</svg>
